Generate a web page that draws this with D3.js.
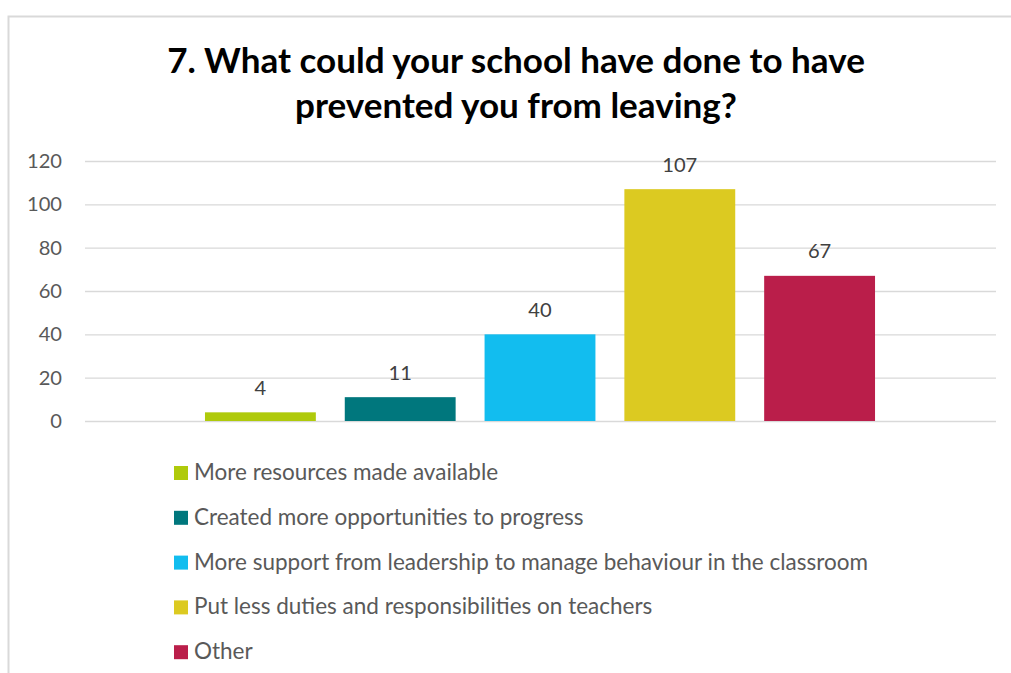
<!DOCTYPE html>
<html>
<head>
<meta charset="utf-8">
<script src="https://cdn.jsdelivr.net/npm/d3@7"></script>
<style>
  body { margin: 0; background: #fff; }
  svg { display: block; }
  text { font-family: Lato, "Open Sans", "DejaVu Sans", sans-serif; }
</style>
</head>
<body>
<svg id="chart" width="1011" height="673"></svg>
<script>
// Survey responses: one bar per answer
const titleLines = ["7. What could your school have done to have", "prevented you from leaving?"];
const categories = [
  "More resources made available",
  "Created more opportunities to progress",
  "More support from leadership to manage behaviour in the classroom",
  "Put less duties and responsibilities on teachers",
  "Other"
];
const values = [4, 11, 40, 107, 67];
const colors = ["#afca0b", "#00777d", "#12bdef", "#dcca21", "#ba1e4a"];
const yTicks = [0, 20, 40, 60, 80, 100, 120];

const svg = d3.select("#chart");

// Scale a text's font size so its rendered width equals the wanted width
function fitWidth(sel, wanted) {
  sel.style("font-size", "100px");
  const w = sel.node().getComputedTextLength();
  const size = 100 * wanted / w;
  sel.style("font-size", size + "px");
  return size;
}

// Outer frame (top and left edges)
svg.append("path")
  .attr("d", "M8.5,673 V16.5 H1011")
  .attr("fill", "none")
  .attr("stroke", "#d9d9d9")
  .attr("stroke-width", 2);

// Title
const titleCx = 516;
const t1 = svg.append("text").attr("x", titleCx).attr("y", 73)
  .attr("text-anchor", "middle").attr("font-weight", "bold").attr("fill", "#000")
  .text(titleLines[0]);
const titleSize = fitWidth(t1, 698);
svg.append("text").attr("x", titleCx).attr("y", 118)
  .attr("text-anchor", "middle").attr("font-weight", "bold").attr("fill", "#000")
  .style("font-size", titleSize + "px")
  .text(titleLines[1]);

// Plot area
const plotLeft = 85, plotRight = 996;
const y = d3.scaleLinear().domain([0, 120]).range([421, 161]);
const x = d3.scaleBand()
  .domain(categories)
  .range([190.5, 889.5])
  .paddingInner(0.207)
  .paddingOuter(0.1035);

// Measure a digit label size so "120" is about 35px wide
const probe = svg.append("text").text("120");
const numSize = fitWidth(probe, 35);
probe.remove();

// Y axis with gridlines
const yAxis = svg.append("g")
  .attr("transform", `translate(${plotLeft},0)`)
  .call(d3.axisLeft(y).tickValues(yTicks).tickSize(-(plotRight - plotLeft)).tickPadding(23));
yAxis.select(".domain").remove();
yAxis.selectAll(".tick line").attr("stroke", "#d9d9d9").attr("stroke-width", 1.4);
yAxis.selectAll(".tick text")
  .attr("fill", "#595959")
  .style("font-family", 'Lato, "Open Sans", sans-serif')
  .style("font-size", numSize + "px");

// Bars
svg.append("g").selectAll("rect")
  .data(categories)
  .join("rect")
  .attr("x", d => x(d))
  .attr("width", x.bandwidth())
  .attr("y", (d, i) => y(values[i]))
  .attr("height", (d, i) => y(0) - y(values[i]))
  .attr("fill", (d, i) => colors[i]);

// Value labels above bars
svg.append("g").selectAll("text")
  .data(categories)
  .join("text")
  .attr("x", d => x(d) + x.bandwidth() / 2)
  .attr("y", (d, i) => y(values[i]) - 17.5)
  .attr("text-anchor", "middle")
  .attr("fill", "#404040")
  .style("font-size", numSize + "px")
  .text((d, i) => values[i]);

// Legend
const legend = svg.append("g");
const rowGap = 44.8;
const rows = legend.selectAll("g")
  .data(categories)
  .join("g")
  .attr("transform", (d, i) => `translate(0,${i * rowGap})`);
rows.append("rect")
  .attr("x", 174).attr("y", 466)
  .attr("width", 14).attr("height", 14)
  .attr("fill", (d, i) => colors[i]);
const labels = rows.append("text")
  .attr("x", 194).attr("y", 480)
  .attr("fill", "#595959")
  .text(d => d);
const legendSize = fitWidth(labels.filter((d, i) => i === 2), 674);
labels.style("font-size", legendSize + "px");
</script>
</body>
</html>
